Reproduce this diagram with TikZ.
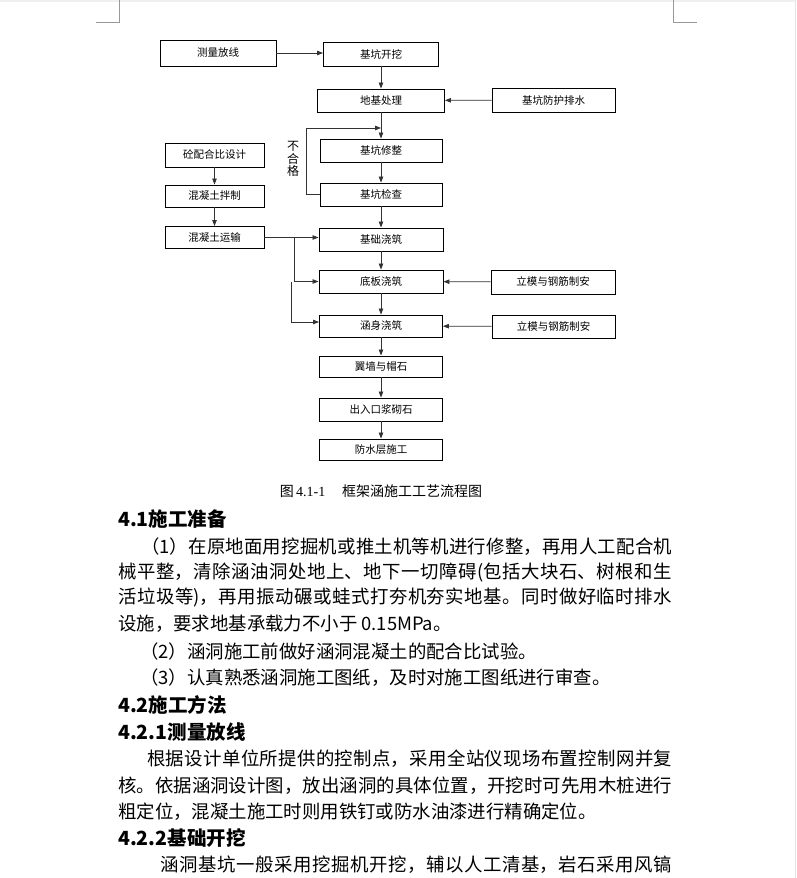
\documentclass[tikz,border=0pt]{standalone}
\usepackage{fontspec}
\setmainfont{Noto Sans CJK SC}
\newfontfamily\capnum{Liberation Serif}
\usetikzlibrary{positioning,arrows.meta}
\XeTeXlinebreaklocale "zh"
\XeTeXlinebreakskip=0pt plus 1pt minus 0.3pt
\setlength{\parindent}{0pt}
\newcommand{\jline}[1]{{\parfillskip=0pt\relax #1\par}}

\begin{document}
\begin{tikzpicture}[x=1pt, y=-1pt,
  box/.style={draw, line width=0.9pt, minimum width=123pt, minimum height=23pt,
              inner sep=0pt, font=\fontsize{10.5}{12}\selectfont},
  sbox/.style={box, minimum width=99pt},
  arr/.style={-{Triangle[length=6pt,width=4.5pt]}, line width=0.8pt, black!80},
  body/.style={anchor=west, inner sep=0pt, font=\fontsize{18.4}{22}\selectfont},
  full/.style={body, text width=#1, align=justify},
  head/.style={anchor=west, inner sep=0pt, font=\fontsize{19.5}{22}\selectfont\bfseries},
  cropline/.style={black!40, line width=0.8pt}
]
\useasboundingbox (0,0) rectangle (796,878);
\fill[white] (0,0) rectangle (796,878);
\fill[black!6] (0,0) rectangle (796,2);
\fill[black!10] (794.5,0) rectangle (796,878);

% page corner marks
\draw[cropline] (119,0) -- (119,22) -- (96,22);
\draw[cropline] (673,0) -- (673,22) -- (697,22);

%% ── nodes ───────────────────────────────────────────────────────────────
\node[box, minimum width=116pt, minimum height=26pt] (clfx) at (218,53)  {测量放线};
\node[box, minimum width=115pt, minimum height=24pt] (kw)   at (381,54)  {基坑开挖};
\node[box, minimum width=127pt] (djcl) at (381,100.5) {地基处理};
\node[box, minimum height=24pt] (fh)   at (553.5,100) {基坑防护排水};
\node[box, minimum width=122pt] (xz)   at (381,150.5) {基坑修整};
\node[box, minimum width=122pt] (jc)   at (381,194.5) {基坑检查};

% concrete supply (left)
\node[sbox, minimum height=24pt] (phb) at (214.5,155) {砼配合比设计};
\node[sbox, minimum height=22pt] (bz)  at (214.5,196) {混凝土拌制};
\node[sbox, minimum height=22pt] (ys)  at (214.5,237.5) {混凝土运输};

% pouring chain
\node[box, minimum width=124pt] (jcjz) at (381,239.5) {基础浇筑};
\node[box, minimum width=124pt] (dbjz) at (381,281.5) {底板浇筑};
\node[box, minimum width=124pt, minimum height=24pt] (lm1) at (553,282) {立模与钢筋制安};
\node[box, minimum height=22pt] (hsjz) at (381,326)   {涵身浇筑};
\node[box] (lm2) at (553.5,326.5) {立模与钢筋制安};
\node[box, minimum height=21pt] (yq)   at (381,366.5) {翼墙与帽石};
\node[box] (crk) at (381,409.5) {出入口浆砌石};
\node[box, minimum height=21pt] (fs)   at (381,449.5) {防水层施工};

\node[inner sep=0pt, align=center, font=\fontsize{12}{12.5}\selectfont] (bhg) at (293,159) {不\\合\\格};

\coordinate (mrg) at (381,128);
\coordinate (br1) at (294,237.5);
\coordinate (br2) at (291,282);

%% ── edges ───────────────────────────────────────────────────────────────
\draw[arr] (clfx) -- (kw.west |- clfx);
\draw[arr] (kw) -- (djcl);
\draw[arr] (fh) -- (djcl);
\draw[arr] (djcl) -- (xz);
\draw[arr] (xz) -- (jc);
% not passed: back to trimming
\draw[arr] (jc.west) -- ++(-13,0) |- (mrg);
\draw[arr] (jc) -- (jcjz);

\draw[arr] (phb) -- (bz);
\draw[arr] (bz) -- (ys);
\draw[arr] (ys.east) -- (ys.east -| jcjz.west);
\draw[arr] (br1) |- (dbjz.west);
\draw[arr] (br2) |- ([yshift=4pt]hsjz.west);

\draw[arr] (jcjz) -- (dbjz);
\draw[arr] (lm1) -- (dbjz);
\draw[arr] (dbjz) -- (hsjz);
\draw[arr] (lm2) -- (hsjz);
\draw[arr] (hsjz) -- (yq);
\draw[arr] (yq) -- (crk);
\draw[arr] (crk) -- (fs);

%% ── caption and text ────────────────────────────────────────────────────
\node[inner sep=0pt, font=\fontsize{14}{16}\selectfont] (cap) at (381,491)
  {图\,{\capnum 4.1-1}\hspace{1.2em}框架涵施工工艺流程图};

\node[head] (h41) at (118,519) {4.1施工准备};
\node[full=531pt] (p1a) at (141,547) {\jline{（1）在原地面用挖掘机或推土机等机进行修整，再用人工配合机}};
\node[full=554pt] (p1b) at (118,573) {\jline{械平整，清除涵油洞处地上、地下一切障碍(包括大块石、树根和生}};
\node[full=554pt] (p1c) at (118,598) {\jline{活垃圾等)，再用振动碾或蛙式打夯机夯实地基。同时做好临时排水}};
\node[body] (p1d) at (118,624) {设施，要求地基承载力不小于 0.15MPa。};
\node[body] (p2)  at (140,652) {（2）涵洞施工前做好涵洞混凝土的配合比试验。};
\node[body] (p3)  at (140,678) {（3）认真熟悉涵洞施工图纸，及时对施工图纸进行审查。};
\node[head] (h42) at (118,705) {4.2施工方法};
\node[head] (h421) at (118,732) {4.2.1测量放线};
\node[full=525pt] (p4a) at (147,759) {\jline{根据设计单位所提供的控制点，采用全站仪现场布置控制网并复}};
\node[full=554pt] (p4b) at (118,786) {\jline{核。依据涵洞设计图，放出涵洞的具体位置，开挖时可先用木桩进行}};
\node[body] (p4c) at (118,812) {粗定位，混凝土施工时则用铁钉或防水油漆进行精确定位。};
\node[head] (h422) at (118,838) {4.2.2基础开挖};
\node[full=512pt] (p5) at (160,865) {\jline{涵洞基坑一般采用挖掘机开挖，辅以人工清基，岩石采用风镐}};

\end{tikzpicture}
\end{document}
